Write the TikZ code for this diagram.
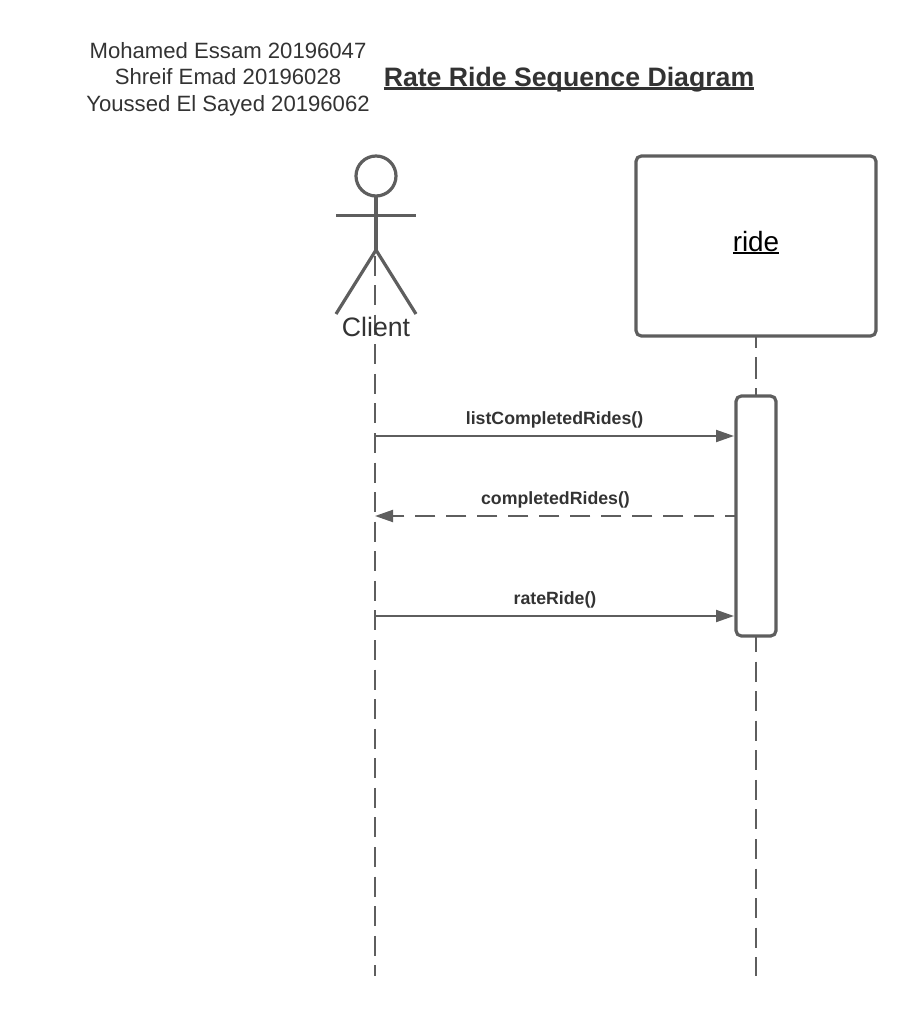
\documentclass[tikz,border=0pt]{standalone}
\usepackage{fontspec}
\setmainfont{Liberation Sans}
\usetikzlibrary{arrows.meta}
\definecolor{ln}{HTML}{5E5E5E}
\definecolor{tx}{HTML}{333333}
\newcommand{\fs}[1]{\fontsize{#1pt}{#1pt}\selectfont}
\newcommand{\thickul}[3]{\setbox0\hbox{#1}\rlap{\smash{\raisebox{-#2}{\rule{\wd0}{#3}}}}\box0}
\tikzset{x=0.75pt,y=-0.75pt,
  shape line/.style={draw=ln,line width=2.4pt},
  box/.style={shape line,fill=white,rounded corners=4pt,inner sep=0pt,outer sep=0pt,anchor=north west},
  life/.style={draw=ln,line width=1.5pt},
  msg/.style={draw=ln,line width=1.5pt,-{Triangle[length=13.5pt,width=9pt]}},
  lbl/.style={text=tx,inner sep=0pt,font=\fs{13.3}\bfseries,anchor=base},
  head/.style={text=tx,inner sep=0pt,font=\fs{16.6},anchor=base}}
\begin{document}
\begin{tikzpicture}
\useasboundingbox (0,0) rectangle (916,1016);
% lifelines
\coordinate (cl0) at (375,232);
\coordinate (cl1) at (375,976);
\coordinate (rl1) at (756,976);
\draw[life,dash pattern=on 15pt off 7.18pt,dash phase=4.5pt] (cl0) -- (cl1);
\node[box,minimum width=240*0.75pt,minimum height=180*0.75pt] (ride) at (636,156) {};
\node[text=black,inner sep=0pt,font=\fs{20.9},anchor=base] (ridelabel) at (756,251.5) {\thickul{ride}{2pt}{1.4pt}};
\node[box,minimum width=40*0.75pt,minimum height=240*0.75pt] (act) at (736,396) {};
\draw[life,dash pattern=on 16.5pt off 6.75pt,dash phase=7.5pt] (ride.south) -- (act.north);
\draw[life,dash pattern=on 15pt off 7.18pt,dash phase=3pt] (act.south) -- (rl1);
% actor
\node[circle,shape line,minimum size=40*0.75pt,inner sep=0pt,outer sep=0pt] (head) at (376,176) {};
\coordinate (hip) at (376,250);
\coordinate (armL) at (336,215.5);
\coordinate (armR) at (416,215.5);
\coordinate (footL) at (336,314);
\coordinate (footR) at (416,314);
\draw[shape line] (head.south) -- (hip);
\draw[shape line] (armL) -- (armR);
\draw[shape line] (footL) -- (hip) -- (footR);
\node[text=tx,inner sep=0pt,font=\fs{20}] (client) at (376,327) {Client};
% messages
\coordinate (m1a) at (375,436);
\coordinate (m2a) at (375,516);
\coordinate (m3a) at (375,616);
\draw[msg,shorten >=1.5pt] (m1a) -- (m1a -| act.west);
\node[lbl] (m1) at (554.5,424.5) {listCompletedRides()};
\draw[msg,dash pattern=on 15.4pt off 7.85pt,dash phase=7.1pt] (m2a -| act.west) -- (m2a);
\node[lbl] (m2) at (555.5,504.5) {completedRides()};
\draw[msg,shorten >=1.5pt] (m3a) -- (m3a -| act.west);
\node[lbl] (m3) at (555,604.5) {rateRide()};
% texts
\node[head] (n1) at (228,58.5) {Mohamed Essam 20196047};
\node[head] (n2) at (228,85) {Shreif Emad 20196028};
\node[head] (n3) at (228,112) {Youssed El Sayed 20196062};
\node[text=tx,inner sep=0pt,font=\fs{20}\bfseries,anchor=base] (title) at (569,86.5) {\thickul{Rate Ride Sequence Diagram}{2.8pt}{2.25pt}};
\end{tikzpicture}
\end{document}
